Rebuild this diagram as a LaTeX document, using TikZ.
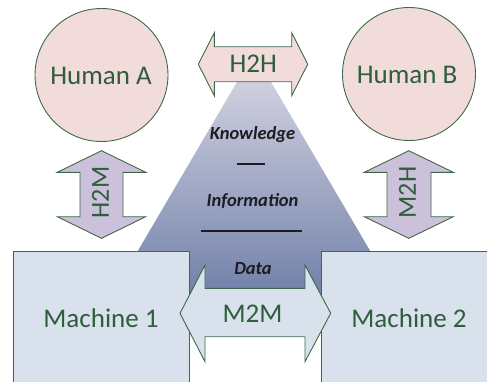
\documentclass[tikz,border=0pt]{standalone}
\usepackage{fontspec}
\setmainfont{Carlito}
\definecolor{pinkfill}{HTML}{F2DCDB}
\definecolor{lavfill}{HTML}{CCC1DA}
\definecolor{machfill}{HTML}{D8E1EC}
\definecolor{edgegreen}{HTML}{3E6848}
\definecolor{txtgreen}{HTML}{2E5E3C}
\definecolor{tritop}{HTML}{DCDAE7}
\definecolor{tribot}{HTML}{6F7FA8}
\definecolor{tritext}{HTML}{1C1C22}
\begin{document}
\begin{tikzpicture}[x=1pt,y=-1pt,
  shapeedge/.style={draw=edgegreen,line width=0.9pt,line join=miter},
  bigtext/.style={text=txtgreen,font=\fontsize{27}{30}\selectfont,inner sep=0pt},
  tritxt/.style={text=tritext,font=\fontsize{18.5}{21}\selectfont\bfseries\itshape,inner sep=0pt,anchor=base},
  human/.style={circle,shapeedge,fill=pinkfill,minimum size=133pt,inner sep=0pt},
  machine/.style={rectangle,shapeedge,fill=machfill,inner sep=0pt},
  rule/.style={draw=tritext,line width=1.1pt}]
\useasboundingbox (0,0) rectangle (487,381);
\clip (0,0) rectangle (487,381);
% pyramid
\shade[top color=tritop,bottom color=tribot,shading angle=0]
  (254,53) -- (399,300) -- (109,300) -- cycle;
% humans
\node[human] (ha) at (101.5,75) {};
\node[human] (hb) at (409,74) {};
\node[bigtext,anchor=base] (hat) at (101,84) {Human A};
\node[bigtext,anchor=base] (hbt) at (407,83.5) {Human B};
% H2H arrow
\filldraw[shapeedge,fill=pinkfill] (198.3,64.2) -- (214.3,32.7) -- (214.3,46.7) -- (291.7,46.7)
  -- (291.7,32.7) -- (307.7,64.2) -- (291.7,95.7) -- (291.7,81.7) -- (214.3,81.7)
  -- (214.3,95.7) -- cycle;
\node[bigtext,anchor=base] (h2h) at (253.3,72.5) {H2H};
% H2M arrow
\filldraw[shapeedge,fill=lavfill] (101.5,150.7) -- (145.7,172.3) -- (123,172.3) -- (123,216.7)
  -- (145.7,216.7) -- (101.5,238.3) -- (57.3,216.7) -- (80,216.7) -- (80,172.3)
  -- (57.3,172.3) -- cycle;
\node[bigtext,font=\fontsize{26}{30}\selectfont,rotate=90] (h2m) at (100.5,192.5) {H2M};
% M2H arrow
\filldraw[shapeedge,fill=lavfill] (408.8,150.7) -- (453.3,172.3) -- (431,172.3) -- (431,216.7)
  -- (453.3,216.7) -- (408.8,238.3) -- (364.3,216.7) -- (387,216.7) -- (387,172.3)
  -- (364.3,172.3) -- cycle;
\node[bigtext,font=\fontsize{26}{30}\selectfont,rotate=90] (m2h) at (407.5,192.5) {M2H};
% pyramid texts
\node[tritxt] (know) at (252.5,139.5) {Knowledge};
\coordinate (k1) at (237,164);
\coordinate (k2) at (265,164);
\draw[rule] (k1) -- (k2);
\node[tritxt] (info) at (252.5,206.7) {Information};
\coordinate (i1) at (201,231);
\coordinate (i2) at (302,231);
\draw[rule] (i1) -- (i2);
\node[tritxt] (data) at (253,274) {Data};
% machines
\node[machine,minimum width=176pt,minimum height=160pt] (m1) at (101.3,331.7) {};
\node[machine,minimum width=180pt,minimum height=160pt] (m2) at (411.7,331.7) {};
\node[bigtext,anchor=base] (m1t) at (101,327) {Machine 1};
\node[bigtext,anchor=base] (m2t) at (409,327) {Machine 2};
% M2M arrow
\filldraw[shapeedge,fill=machfill] (180,313.3) -- (205,265) -- (205,288.3) -- (305,288.3)
  -- (305,265) -- (330.7,313.3) -- (305,361.7) -- (305,336.7) -- (205,336.7)
  -- (205,361.7) -- cycle;
\node[bigtext,anchor=base] (m2m) at (252.5,322.5) {M2M};
\end{tikzpicture}
\end{document}
